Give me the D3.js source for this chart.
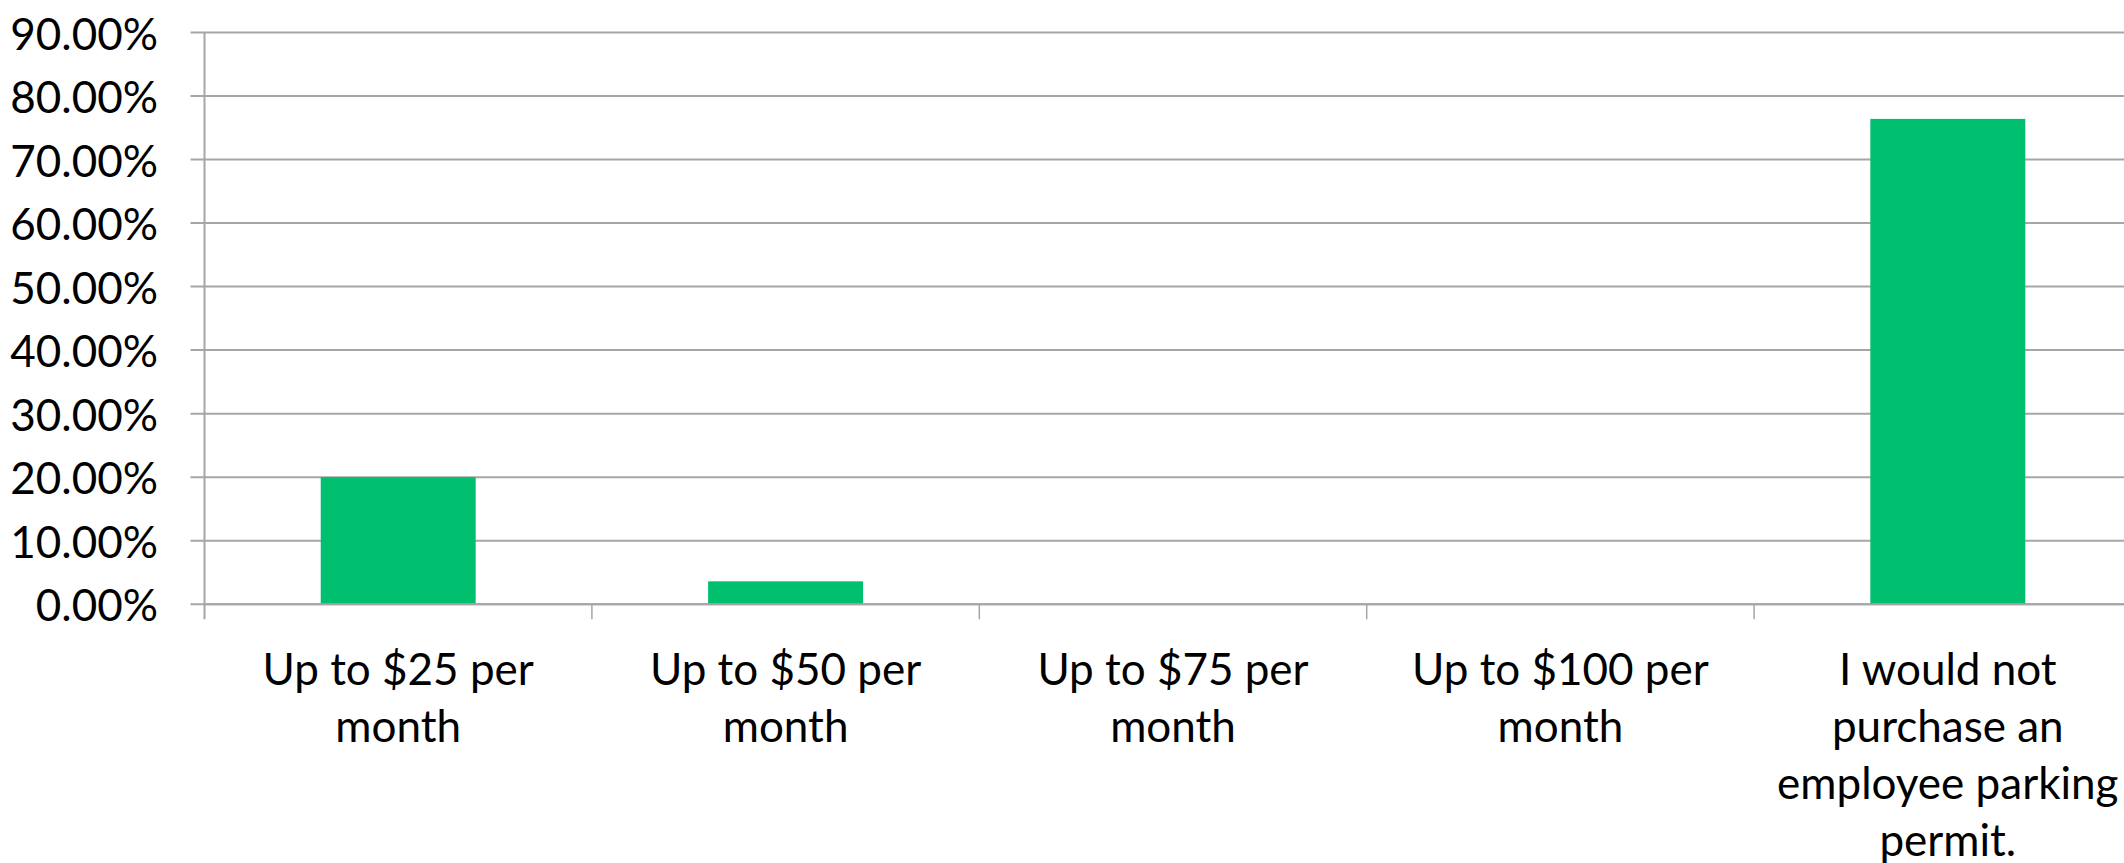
<!DOCTYPE html>
<html>
<head>
<meta charset="utf-8">
<script src="https://cdn.jsdelivr.net/npm/d3@7"></script>
<style>
  html, body { margin: 0; padding: 0; background: #ffffff; }
  svg { display: block; }
  text { font-family: Lato, "Open Sans", sans-serif; fill: #000; }
</style>
</head>
<body>
<svg id="chart" width="2124" height="863"></svg>
<script>
// ---- data ----
const categories = [
  "Up to $25 per\nmonth",
  "Up to $50 per\nmonth",
  "Up to $75 per\nmonth",
  "Up to $100 per\nmonth",
  "I would not\npurchase an\nemployee parking\npermit."
];
const values = [0.200, 0.036, 0.0, 0.0, 0.764];
const yTicks = [0, 0.1, 0.2, 0.3, 0.4, 0.5, 0.6, 0.7, 0.8, 0.9];

// ---- layout ----
const W = 2124, H = 863;
const plotLeft = 204.5, plotTop = 32.5, plotBottom = 604.2;
const bandW = 387.4;
const plotRight = plotLeft + bandW * categories.length;

const svg = d3.select("#chart");

const x = d3.scaleBand().domain(categories).range([plotLeft, plotRight]).paddingInner(0.6).paddingOuter(0.3);
const y = d3.scaleLinear().domain([0, 0.9]).range([plotBottom, plotTop]);

const grid = "#a6a6a6";

// gridlines (including tick stubs left of axis)
svg.append("g").selectAll("line").data(yTicks).join("line")
  .attr("x1", plotLeft - 14).attr("x2", W)
  .attr("y1", d => y(d)).attr("y2", d => y(d))
  .attr("stroke", grid).attr("stroke-width", 2);

// bars
svg.append("g").selectAll("rect").data(values).join("rect")
  .attr("x", (d, i) => x(categories[i]))
  .attr("width", x.bandwidth())
  .attr("y", d => y(d))
  .attr("height", d => plotBottom - y(d))
  .attr("fill", "#00BF6F");

// y axis line
svg.append("line")
  .attr("x1", plotLeft).attr("x2", plotLeft)
  .attr("y1", plotTop).attr("y2", plotBottom + 15)
  .attr("stroke", grid).attr("stroke-width", 2);

// x axis line
svg.append("line")
  .attr("x1", plotLeft).attr("x2", W)
  .attr("y1", plotBottom).attr("y2", plotBottom)
  .attr("stroke", grid).attr("stroke-width", 2);

// x category boundary ticks
const bounds = d3.range(1, categories.length + 1).map(i => plotLeft + i * bandW);
svg.append("g").selectAll("line").data(bounds).join("line")
  .attr("x1", d => d).attr("x2", d => d)
  .attr("y1", plotBottom).attr("y2", plotBottom + 15)
  .attr("stroke", grid).attr("stroke-width", 1.5);

// y tick labels
const fmt = d => (d * 100).toFixed(2) + "%";
svg.append("g").selectAll("text").data(yTicks).join("text")
  .attr("x", 158).attr("y", d => y(d))
  .attr("text-anchor", "end").attr("dominant-baseline", "central")
  .style("font-size", "44px")
  .text(fmt);

// x category labels
const labels = svg.append("g").selectAll("text").data(categories).join("text")
  .attr("text-anchor", "middle")
  .style("font-size", "44px")
  .attr("x", d => x(d) + x.bandwidth() / 2)
  .attr("y", 668)
  .attr("dominant-baseline", "central");
labels.each(function(d) {
  const t = d3.select(this);
  const cx = x(d) + x.bandwidth() / 2;
  d.split("\n").forEach((line, i) => {
    t.append("tspan").attr("x", cx).attr("y", 668 + i * 57).text(line);
  });
});
</script>
</body>
</html>
